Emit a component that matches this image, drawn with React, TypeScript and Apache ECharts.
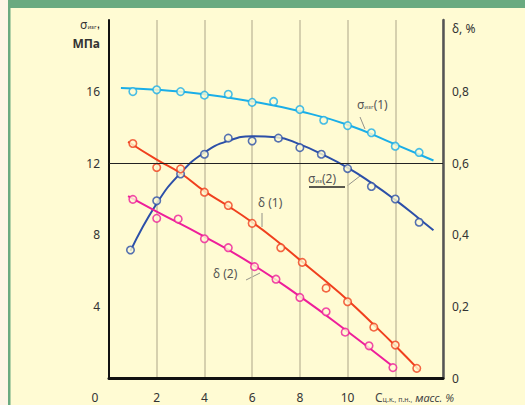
import React, { useEffect, useRef } from "react";
import * as echarts from "echarts";

// X tick labels shown (C, mass %)
const xTicks = [2, 4, 6, 8, 10];

// σ_изг(1) measured points (MPa)
const s1X = [1, 2, 3, 4, 5, 6, 6.9, 8, 9, 10, 11, 12, 13];
const s1Y = [16.0, 16.1, 16.0, 15.8, 15.85, 15.4, 15.45, 15.0, 14.4, 14.1, 13.7, 12.95, 12.6];
// σ_изг(1) fitted curve
const s1FitX = [0.5, 2, 4, 6, 8, 10, 12, 13.6];
const s1FitY = [16.2, 16.1, 15.85, 15.45, 14.9, 14.15, 13.05, 12.15];

// σ_изг(2) measured points (MPa)
const s2X = [0.9, 2, 3, 4, 5, 6, 7.1, 8, 8.9, 10, 11, 12, 13];
const s2Y = [7.15, 9.9, 11.4, 12.5, 13.4, 13.24, 13.4, 12.87, 12.5, 11.7, 10.7, 10.0, 8.7];
const s2FitX = [0.9, 2, 3, 4, 5, 6, 7, 8, 9, 10, 11, 12, 13, 13.6];
const s2FitY = [7.1, 9.75, 11.45, 12.6, 13.25, 13.5, 13.45, 13.05, 12.45, 11.75, 10.9, 9.95, 8.9, 8.25];

// δ(1) measured points (%)
const d1X = [1, 2, 3, 4, 5, 6, 7.2, 8.1, 9.1, 10, 11.1, 12, 12.9];
const d1Y = [0.655, 0.588, 0.584, 0.519, 0.482, 0.432, 0.364, 0.323, 0.251, 0.213, 0.142, 0.092, 0.027];
const d1FitX = [0.8, 2, 3, 4, 5, 6, 7, 8, 9, 10, 11, 12, 13];
const d1FitY = [0.66, 0.61, 0.572, 0.522, 0.48, 0.435, 0.385, 0.33, 0.275, 0.218, 0.155, 0.09, 0.022];

// δ(2) measured points (%)
const d2X = [1, 2, 2.9, 4, 5, 6.1, 7, 8, 9.1, 9.9, 10.9, 11.9];
const d2Y = [0.499, 0.446, 0.444, 0.389, 0.364, 0.311, 0.276, 0.225, 0.185, 0.128, 0.09, 0.029];
const d2FitX = [0.8, 2, 4, 6, 8, 10, 11.85];
const d2FitY = [0.508, 0.465, 0.395, 0.318, 0.228, 0.13, 0.035];

const refLine = 12;

const BG = "#fffbd3";
const TXT = "#333";
const FONT = "Noto Sans";

const zip = (xs: number[], ys: number[]) => xs.map((x, i) => [x, ys[i]]);

export default function App() {
  const ref = useRef<HTMLDivElement>(null);
  useEffect(() => {
    if (!ref.current) return;
    const chart = echarts.init(ref.current, undefined, { renderer: "svg" });
    const fit = (name: string, xs: number[], ys: number[], color: string, yi: number, extra: any = {}) => ({
      type: "line",
      name,
      yAxisIndex: yi,
      data: zip(xs, ys),
      smooth: true,
      symbol: "none",
      lineStyle: { color, width: 2 },
      z: 3,
      ...extra,
    });
    const pts = (name: string, xs: number[], ys: number[], color: string, yi: number) => ({
      type: "scatter",
      name,
      yAxisIndex: yi,
      data: zip(xs, ys),
      symbol: "circle",
      symbolSize: 7.5,
      itemStyle: { color: BG, borderColor: color, borderWidth: 1.6 },
      z: 4,
    });
    const subRich = {
      m: { fontSize: 12, fontFamily: FONT, fill: "#555" },
      s: { fontSize: 6, fontFamily: FONT, fill: "#555", padding: [6, 0, 0, 0] },
    };
    chart.setOption({
      animation: false,
      backgroundColor: BG,
      textStyle: { fontFamily: FONT },
      grid: { left: 109, right: 82, top: 20, bottom: 27 },
      xAxis: {
        type: "value",
        min: 0,
        max: 14,
        interval: 2,
        axisLine: { show: true, lineStyle: { color: "#111", width: 3 } },
        axisTick: { show: false },
        axisLabel: {
          margin: 13,
          color: TXT,
          fontSize: 12,
          fontFamily: FONT,
          formatter: (v: number) => (xTicks.includes(v) ? String(v) : ""),
        },
        splitLine: { show: true, lineStyle: { color: "#c8c2a2", width: 1.5 } },
      },
      yAxis: [
        {
          type: "value",
          min: 0,
          max: 20,
          interval: 4,
          position: "left",
          axisLine: { show: true, lineStyle: { color: "#111", width: 2 } },
          axisTick: { show: false },
          splitLine: { show: false },
          axisLabel: {
            margin: 9,
            color: TXT,
            fontSize: 12,
            fontFamily: FONT,
            formatter: (v: number) => (v === 0 || v === 20 ? "" : String(v)),
          },
        },
        {
          type: "value",
          min: 0,
          max: 1,
          interval: 0.2,
          position: "right",
          axisLine: { show: true, lineStyle: { color: "#555", width: 2.5 } },
          axisTick: { show: false },
          splitLine: { show: false },
          axisLabel: {
            margin: 9,
            color: TXT,
            fontSize: 12,
            fontFamily: FONT,
            formatter: (v: number) => (v >= 0.99 ? "" : v === 0 ? "0" : v.toFixed(1).replace(".", ",")),
          },
        },
      ],
      series: [
        fit("σ1 fit", s1FitX, s1FitY, "#1aaee8", 0, {
          markLine: {
            silent: true,
            symbol: "none",
            label: { show: false },
            lineStyle: { color: "#222", width: 1.2, type: "solid" },
            data: [{ yAxis: refLine }],
          },
        }),
        pts("σ1", s1X, s1Y, "#1aaee8", 0),
        fit("σ2 fit", s2FitX, s2FitY, "#2c4fa8", 0),
        pts("σ2", s2X, s2Y, "#2c4fa8", 0),
        fit("δ1 fit", d1FitX, d1FitY, "#f0401e", 1),
        pts("δ1", d1X, d1Y, "#f0401e", 1),
        fit("δ2 fit", d2FitX, d2FitY, "#ee1e9a", 1),
        pts("δ2", d2X, d2Y, "#ee1e9a", 1),
      ],
      graphic: [
        { type: "rect", left: 0, top: 0, shape: { width: 8, height: 405 }, style: { fill: "#fdf6e6" }, z: 10 },
        { type: "rect", left: 8, top: 0, shape: { width: 2.5, height: 405 }, style: { fill: "#6aaa80" }, z: 10 },
        { type: "rect", left: 8, top: 0, shape: { width: 517, height: 8 }, style: { fill: "#6aaa80" }, z: 10 },
        // axis titles
        {
          type: "text",
          x: 100,
          y: 24,
          style: {
            text: "{m|σ}{s|изг},",
            rich: { m: { fontSize: 12, fontFamily: FONT, fill: TXT }, s: { fontSize: 6, fontFamily: FONT, fill: TXT, padding: [6, 0, 0, 0] } },
            align: "right",
            verticalAlign: "middle",
          },
        },
        {
          type: "text",
          x: 100,
          y: 43,
          style: { text: "МПа", fontSize: 12, fontWeight: "bold", fontFamily: FONT, fill: TXT, align: "right", verticalAlign: "middle" },
        },
        {
          type: "text",
          x: 452,
          y: 28,
          style: { text: "δ, %", fontSize: 12, fontFamily: FONT, fill: TXT, align: "left", verticalAlign: "middle" },
        },
        {
          type: "text",
          x: 95,
          y: 397,
          style: { text: "0", fontSize: 12, fontFamily: FONT, fill: TXT, align: "center", verticalAlign: "middle" },
        },
        {
          type: "text",
          x: 375,
          y: 397,
          style: {
            text: "{m|C}{s|ц.к., п.н.,}{i| масс. %}",
            rich: {
              m: { fontSize: 12, fontFamily: FONT, fill: "#444" },
              s: { fontSize: 7, fontFamily: FONT, fill: "#444", padding: [5, 0, 0, 0] },
              i: { fontSize: 11, fontStyle: "italic", fontFamily: FONT, fill: "#444" },
            },
            align: "left",
            verticalAlign: "middle",
          },
        },
        // annotations
        {
          type: "text",
          x: 357,
          y: 104,
          style: { text: "{m|σ}{s|изг}{m|(1)}", rich: subRich, align: "left", verticalAlign: "middle" },
        },
        { type: "line", shape: { x1: 360, y1: 117, x2: 365, y2: 129 }, style: { stroke: "#777", lineWidth: 0.8 } },
        {
          type: "text",
          x: 308,
          y: 178,
          style: { text: "{m|σ}{s|из}{m|(2)}", rich: subRich, align: "left", verticalAlign: "middle" },
        },
        { type: "line", shape: { x1: 309, y1: 187, x2: 345, y2: 187 }, style: { stroke: "#222", lineWidth: 1.5 } },
        { type: "line", shape: { x1: 347, y1: 186, x2: 360, y2: 176 }, style: { stroke: "#777", lineWidth: 0.8 } },
        {
          type: "text",
          x: 258,
          y: 202,
          style: { text: "δ (1)", fontSize: 12, fontFamily: FONT, fill: "#555", align: "left", verticalAlign: "middle" },
        },
        { type: "line", shape: { x1: 262, y1: 213, x2: 262, y2: 227 }, style: { stroke: "#777", lineWidth: 0.8 } },
        {
          type: "text",
          x: 213,
          y: 273,
          style: { text: "δ (2)", fontSize: 12, fontFamily: FONT, fill: "#555", align: "left", verticalAlign: "middle" },
        },
        { type: "line", shape: { x1: 246, y1: 280, x2: 260, y2: 273 }, style: { stroke: "#777", lineWidth: 0.8 } },
      ],
    });
    return () => chart.dispose();
  }, []);
  return (
    <div
      ref={ref}
      style={{ position: "absolute", left: 0, top: 0, width: 525, height: 405 }}
    />
  );
}
